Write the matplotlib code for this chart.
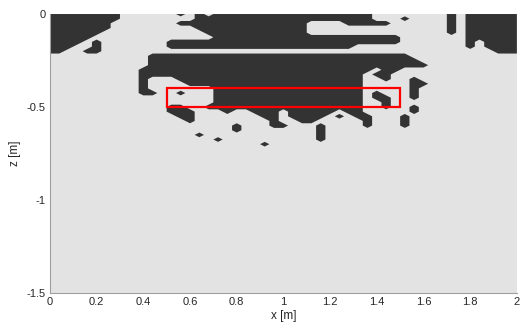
import numpy as np
import matplotlib
matplotlib.use('Agg')
from matplotlib import pyplot as plt
from matplotlib.patches import Rectangle

plt.rcParams['font.family'] = ['Liberation Sans', 'DejaVu Sans']

# grid nodes: x from 0 to 2 m (step 0.04), z from 0 down to -0.75 m (step 0.025)
x_nodes = np.linspace(0, 2, 51)
z_nodes = np.linspace(0, -0.75, 31)

# dark (value 1) column runs per z row
dark_runs = [
    [(0, 7), (14, 14), (16, 16), (18, 34), (43, 43), (45, 50)],
    [(0, 7), (16, 34), (38, 38), (43, 43), (45, 50)],
    [(0, 6), (14, 27), (32, 36), (43, 43), (45, 50)],
    [(0, 6), (16, 27), (43, 43), (45, 50)],
    [(0, 5), (17, 27), (43, 43), (45, 50)],
    [(0, 4), (18, 37), (45, 50)],
    [(0, 3), (5, 5), (13, 37), (45, 45), (47, 50)],
    [(0, 2), (5, 5), (13, 32), (45, 45), (47, 50)],
    [(0, 1), (4, 5), (48, 50)],
    [(11, 38)],
    [(11, 39)],
    [(11, 40)],
    [(10, 34), (36, 37)],
    [(10, 33), (35, 36)],
    [(10, 10), (14, 33), (36, 36), (39, 39)],
    [(10, 10), (15, 33), (39, 40)],
    [(10, 10), (18, 33), (39, 39)],
    [(10, 11), (14, 14), (18, 33), (35, 35), (39, 39)],
    [(18, 33), (35, 36), (39, 39)],
    [(18, 33), (36, 36)],
    [(13, 14), (17, 33), (36, 36), (39, 39)],
    [(13, 15), (19, 19), (22, 24), (26, 30), (32, 33), (39, 39)],
    [(14, 15), (23, 24), (26, 29), (31, 31), (33, 34), (38, 38)],
    [(15, 15), (24, 24), (27, 28), (34, 34), (38, 38)],
    [(20, 20), (24, 25), (29, 29), (34, 34), (38, 38)],
    [(20, 20), (29, 29)],
    [(16, 16), (29, 29)],
    [(18, 18), (29, 29)],
    [(23, 23)],
    [],
    [],
]

# target zone outlined in red
box_x = [0.5, 1.5]
box_z = [-0.5, -0.4]

xticks = [0, 0.2, 0.4, 0.6, 0.8, 1, 1.2, 1.4, 1.6, 1.8, 2]
xtick_labels = ['0', '0.2', '0.4', '0.6', '0.8', '1', '1.2', '1.4', '1.6', '1.8', '2']
zticks = [0, -0.5, -1, -1.5]
ztick_labels = ['0', '-0.5', '-1', '-1.5']

light = '#e3e3e3'
dark = '#333333'

mask = np.zeros((len(z_nodes), len(x_nodes)))
for j, runs in enumerate(dark_runs):
    for a, b in runs:
        mask[j, a:b + 1] = 1

fig = plt.figure(figsize=(5.2, 3.34), dpi=100)
ax = fig.add_axes([0.096, 0.123, 0.898, 0.835])
ax.set_facecolor(light)

X, Z = np.meshgrid(x_nodes, z_nodes)
ax.contourf(X, Z, mask, levels=[-0.5, 0.5, 1.5], colors=[light, dark], antialiased=True)

ax.add_patch(Rectangle((box_x[0], box_z[0]), box_x[1] - box_x[0], box_z[1] - box_z[0],
                       fill=False, edgecolor='red', linewidth=1.6))

ax.set_xlim(0, 2)
ax.set_ylim(-1.5, 0)
ax.set_xticks(xticks)
ax.set_xticklabels(xtick_labels)
ax.set_yticks(zticks)
ax.set_yticklabels(ztick_labels)
ax.tick_params(length=0, labelsize=8, colors='#262626', pad=3)
ax.set_xlabel('x [m]', fontsize=8.5, color='#262626', labelpad=2)
ax.set_ylabel('z [m]', fontsize=8.5, color='#262626', labelpad=4)

for s in ['top', 'right']:
    ax.spines[s].set_visible(False)
for s in ['left', 'bottom']:
    ax.spines[s].set_color('#a0a0a0')
    ax.spines[s].set_linewidth(0.8)

fig.savefig('out.png', dpi=100)
